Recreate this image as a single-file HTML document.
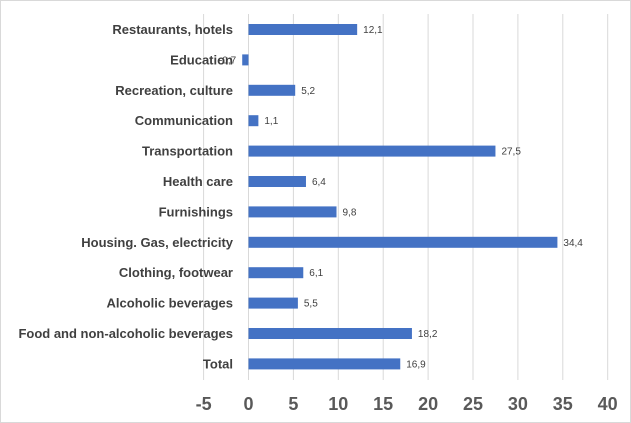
<!DOCTYPE html>
<html><head><meta charset="utf-8"><style>
body{margin:0;background:#fff}
svg{display:block;font-family:"Liberation Sans",Arial,sans-serif}
</style></head><body>
<svg id="chart" width="631" height="423">
<rect x="0.5" y="0.5" width="630" height="422" fill="#fff" stroke="#d9d9d9"/>
<g id="grid"></g><g id="bars"></g><g id="labels"></g><g id="ticks"></g>
</svg>
<script>
const categories=["Restaurants, hotels","Education","Recreation, culture","Communication","Transportation","Health care","Furnishings","Housing. Gas, electricity","Clothing, footwear","Alcoholic beverages","Food and non-alcoholic beverages","Total"];
const values=[12.1,-0.7,5.2,1.1,27.5,6.4,9.8,34.4,6.1,5.5,18.2,16.9];
const valueLabels=["12,1","-0,7","5,2","1,1","27,5","6,4","9,8","34,4","6,1","5,5","18,2","16,9"];
const tickValues=[-5,0,5,10,15,20,25,30,35,40];
const NS="http://www.w3.org/2000/svg";
const x=v=>248.5+v*8.98;
const y=i=>29.5+i*30.4;
function mk(tag,attrs,parent,text){const e=document.createElementNS(NS,tag);for(const k in attrs)e.setAttribute(k,attrs[k]);if(text!==undefined)e.textContent=text;document.getElementById(parent).appendChild(e);return e;}
tickValues.forEach(t=>{
 const g=mk("line",{x1:x(t),x2:x(t),y1:14,y2:380,stroke:"#d9d9d9","stroke-width":1},"grid");
 
 
 const l=mk("text",{x:x(t),y:410,"text-anchor":"middle","font-size":18,"font-weight":"bold",fill:"#595959"},"ticks",String(t));
 
 
});
categories.forEach((c,i)=>{
 const v=values[i];
 const r=mk("rect",{x:Math.min(x(0),x(v)),y:y(i)-5.5,width:Math.abs(x(v)-x(0)),height:11,fill:"#4472c4"},"bars");
 
 
 const cl=mk("text",{x:233,y:y(i)+4.5,"text-anchor":"end","font-size":13,"font-weight":"bold",fill:"#404040"},"labels",c);
 
 
 const vx=v>=0?x(v)+6:x(v)-6;
 const vl=mk("text",{x:vx,y:y(i)+3.5,"text-anchor":v>=0?"start":"end","font-size":10,fill:"#404040"},"labels",valueLabels[i]);
 
 
});
</script>
</body></html>
